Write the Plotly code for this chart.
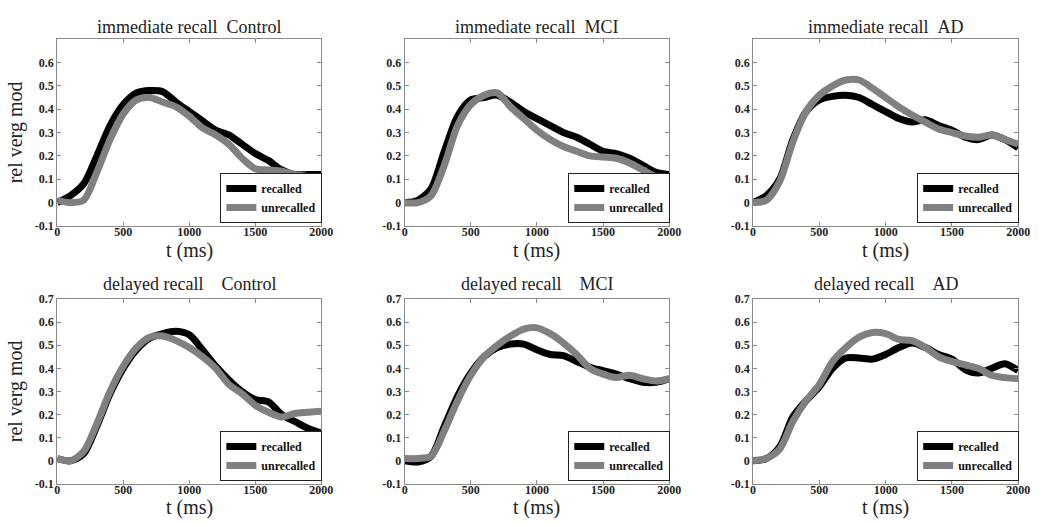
import plotly.graph_objects as go

W, H = 1043, 525

t = [0, 100, 200, 300, 400, 500, 600, 700, 800, 900, 1000,
     1100, 1200, 1300, 1400, 1500, 1600, 1700, 1800, 1900, 2000]

# immediate recall
imm_ctrl_rec = [0.0, 0.03, 0.08, 0.20, 0.33, 0.42, 0.47, 0.48, 0.475, 0.43, 0.39,
                0.35, 0.31, 0.29, 0.25, 0.21, 0.18, 0.14, 0.12, 0.12, 0.12]
imm_ctrl_unr = [0.01, 0.0, 0.01, 0.13, 0.27, 0.38, 0.44, 0.45, 0.43, 0.41, 0.37,
                0.32, 0.29, 0.25, 0.19, 0.145, 0.14, 0.135, 0.12, 0.11, 0.09]
imm_mci_rec = [0.0, 0.01, 0.06, 0.22, 0.37, 0.44, 0.45, 0.46, 0.43, 0.39, 0.36,
               0.33, 0.30, 0.28, 0.25, 0.22, 0.21, 0.19, 0.16, 0.13, 0.12]
imm_mci_unr = [0.0, 0.0, 0.03, 0.16, 0.33, 0.42, 0.46, 0.47, 0.41, 0.36, 0.31,
               0.27, 0.24, 0.22, 0.20, 0.195, 0.19, 0.17, 0.14, 0.11, 0.09]
imm_ad_rec = [0.0, 0.03, 0.10, 0.27, 0.39, 0.44, 0.455, 0.46, 0.45, 0.42, 0.39,
              0.36, 0.345, 0.355, 0.33, 0.31, 0.28, 0.27, 0.29, 0.27, 0.235]
imm_ad_unr = [0.0, 0.01, 0.09, 0.26, 0.39, 0.46, 0.50, 0.525, 0.525, 0.49, 0.45,
              0.41, 0.375, 0.345, 0.315, 0.30, 0.285, 0.28, 0.29, 0.27, 0.25]

# delayed recall
del_ctrl_rec = [0.01, 0.0, 0.03, 0.15, 0.29, 0.40, 0.48, 0.53, 0.55, 0.56, 0.545,
                0.48, 0.41, 0.35, 0.30, 0.265, 0.255, 0.20, 0.17, 0.14, 0.12]
del_ctrl_unr = [0.01, 0.0, 0.04, 0.16, 0.30, 0.41, 0.49, 0.535, 0.54, 0.52, 0.49,
                0.45, 0.40, 0.33, 0.29, 0.24, 0.21, 0.19, 0.205, 0.21, 0.215]
del_mci_rec = [0.0, -0.005, 0.02, 0.15, 0.28, 0.38, 0.45, 0.49, 0.505, 0.505, 0.48,
               0.46, 0.455, 0.43, 0.405, 0.39, 0.375, 0.355, 0.34, 0.34, 0.355]
del_mci_unr = [0.01, 0.01, 0.02, 0.13, 0.26, 0.37, 0.45, 0.50, 0.54, 0.57, 0.575,
               0.55, 0.51, 0.46, 0.40, 0.375, 0.36, 0.37, 0.355, 0.345, 0.355]
del_ad_rec = [0.0, 0.01, 0.06, 0.19, 0.26, 0.32, 0.40, 0.445, 0.445, 0.44, 0.46,
              0.49, 0.51, 0.49, 0.46, 0.44, 0.395, 0.38, 0.40, 0.42, 0.39]
del_ad_unr = [0.0, 0.01, 0.05, 0.17, 0.26, 0.33, 0.43, 0.49, 0.535, 0.555, 0.55,
              0.525, 0.52, 0.49, 0.45, 0.43, 0.415, 0.40, 0.37, 0.36, 0.355]

titles = ["immediate recall  Control", "immediate recall  MCI", "immediate recall  AD",
          "delayed recall    Control", "delayed recall    MCI", "delayed recall    AD"]
series = [(imm_ctrl_rec, imm_ctrl_unr), (imm_mci_rec, imm_mci_unr), (imm_ad_rec, imm_ad_unr),
          (del_ctrl_rec, del_ctrl_unr), (del_mci_rec, del_mci_unr), (del_ad_rec, del_ad_unr)]
series_names = ["recalled", "unrecalled"]
x_ticks = [0, 500, 1000, 1500, 2000]
y_ticks_top = [-0.1, 0, 0.1, 0.2, 0.3, 0.4, 0.5, 0.6]
y_ticks_bot = [-0.1, 0, 0.1, 0.2, 0.3, 0.4, 0.5, 0.6, 0.7]

SERIF = "Liberation Serif"

# panel pixel boxes (left, right, top, bottom)
cols = [(55, 323), (407.5, 676), (761, 1030)]
rows = [(33, 225), (300, 490)]

def px(x):
    return x / W

def py(y):
    return 1 - y / H

fig = go.Figure()
annotations = []
layout = dict(
    width=W, height=H,
    margin=dict(l=0, r=0, t=0, b=0),
    paper_bgcolor="white", plot_bgcolor="white",
    showlegend=True,
)

colors = ["#000000", "#808080"]

for i in range(6):
    r, c = divmod(i, 3)
    l, rr = cols[c]
    top, bot = rows[r]
    k = i + 1
    xa = "x" if k == 1 else f"x{k}"
    ya = "y" if k == 1 else f"y{k}"
    lg = "legend" if k == 1 else f"legend{k}"
    for j, name in enumerate(series_names):
        fig.add_trace(go.Scatter(
            x=t, y=series[i][j], mode="lines", name=name,
            line=dict(color=colors[j], width=7, shape="spline", smoothing=0.8),
            xaxis=xa, yaxis=ya, legend=lg,
        ))
    yt = y_ticks_top if r == 0 else y_ticks_bot
    axis_common = dict(
        showgrid=False, zeroline=False, showline=True, linecolor="#8a8a8a", linewidth=1,
        mirror="ticks", ticks="inside", ticklen=4, tickcolor="#8a8a8a",
        tickfont=dict(family=SERIF, size=12, color="#222222", weight="bold"),
    )
    layout["xaxis" if k == 1 else f"xaxis{k}"] = dict(
        axis_common, domain=[px(l), px(rr)], range=[0, 2000],
        tickvals=x_ticks, ticktext=[str(v) for v in x_ticks],
        anchor=ya, ticklabelstandoff=-5,
    )
    layout["yaxis" if k == 1 else f"yaxis{k}"] = dict(
        axis_common, domain=[py(bot), py(top)], range=[-0.1, 0.7],
        tickvals=yt, ticktext=[("-0.1" if v < 0 else ("0" if v == 0 else f"{v:.1f}")) for v in yt],
        anchor=xa,
    )
    layout[lg] = dict(
        x=px(rr + 1), y=py(bot - 3), xanchor="right", yanchor="bottom",
        xref="paper", yref="paper",
        bgcolor="white", bordercolor="#222222", borderwidth=1,
        font=dict(family=SERIF, size=12, color="#111111", weight="bold"),
        itemwidth=30, tracegroupgap=0,
    )
    cx = (l + rr) / 2
    annotations.append(dict(
        text=titles[i].replace("  ", "&nbsp;&nbsp;"), x=px(cx), y=py(21 if r == 0 else 285),
        xref="paper", yref="paper", showarrow=False, xanchor="center", yanchor="middle",
        font=dict(family=SERIF, size=18, color="#222222"),
    ))
    annotations.append(dict(
        text="t (ms)", x=px(cx), y=py(250 if r == 0 else 514),
        xref="paper", yref="paper", showarrow=False, xanchor="center", yanchor="middle",
        font=dict(family=SERIF, size=20, color="#222222"),
    ))
    if c == 0:
        annotations.append(dict(
            text="rel verg mod", x=px(13), y=py((top + bot) / 2),
            xref="paper", yref="paper", showarrow=False, xanchor="center", yanchor="middle",
            textangle=-90, font=dict(family=SERIF, size=20, color="#222222"),
        ))

layout["annotations"] = annotations
fig.update_layout(**layout)
fig.write_html("out.html")
